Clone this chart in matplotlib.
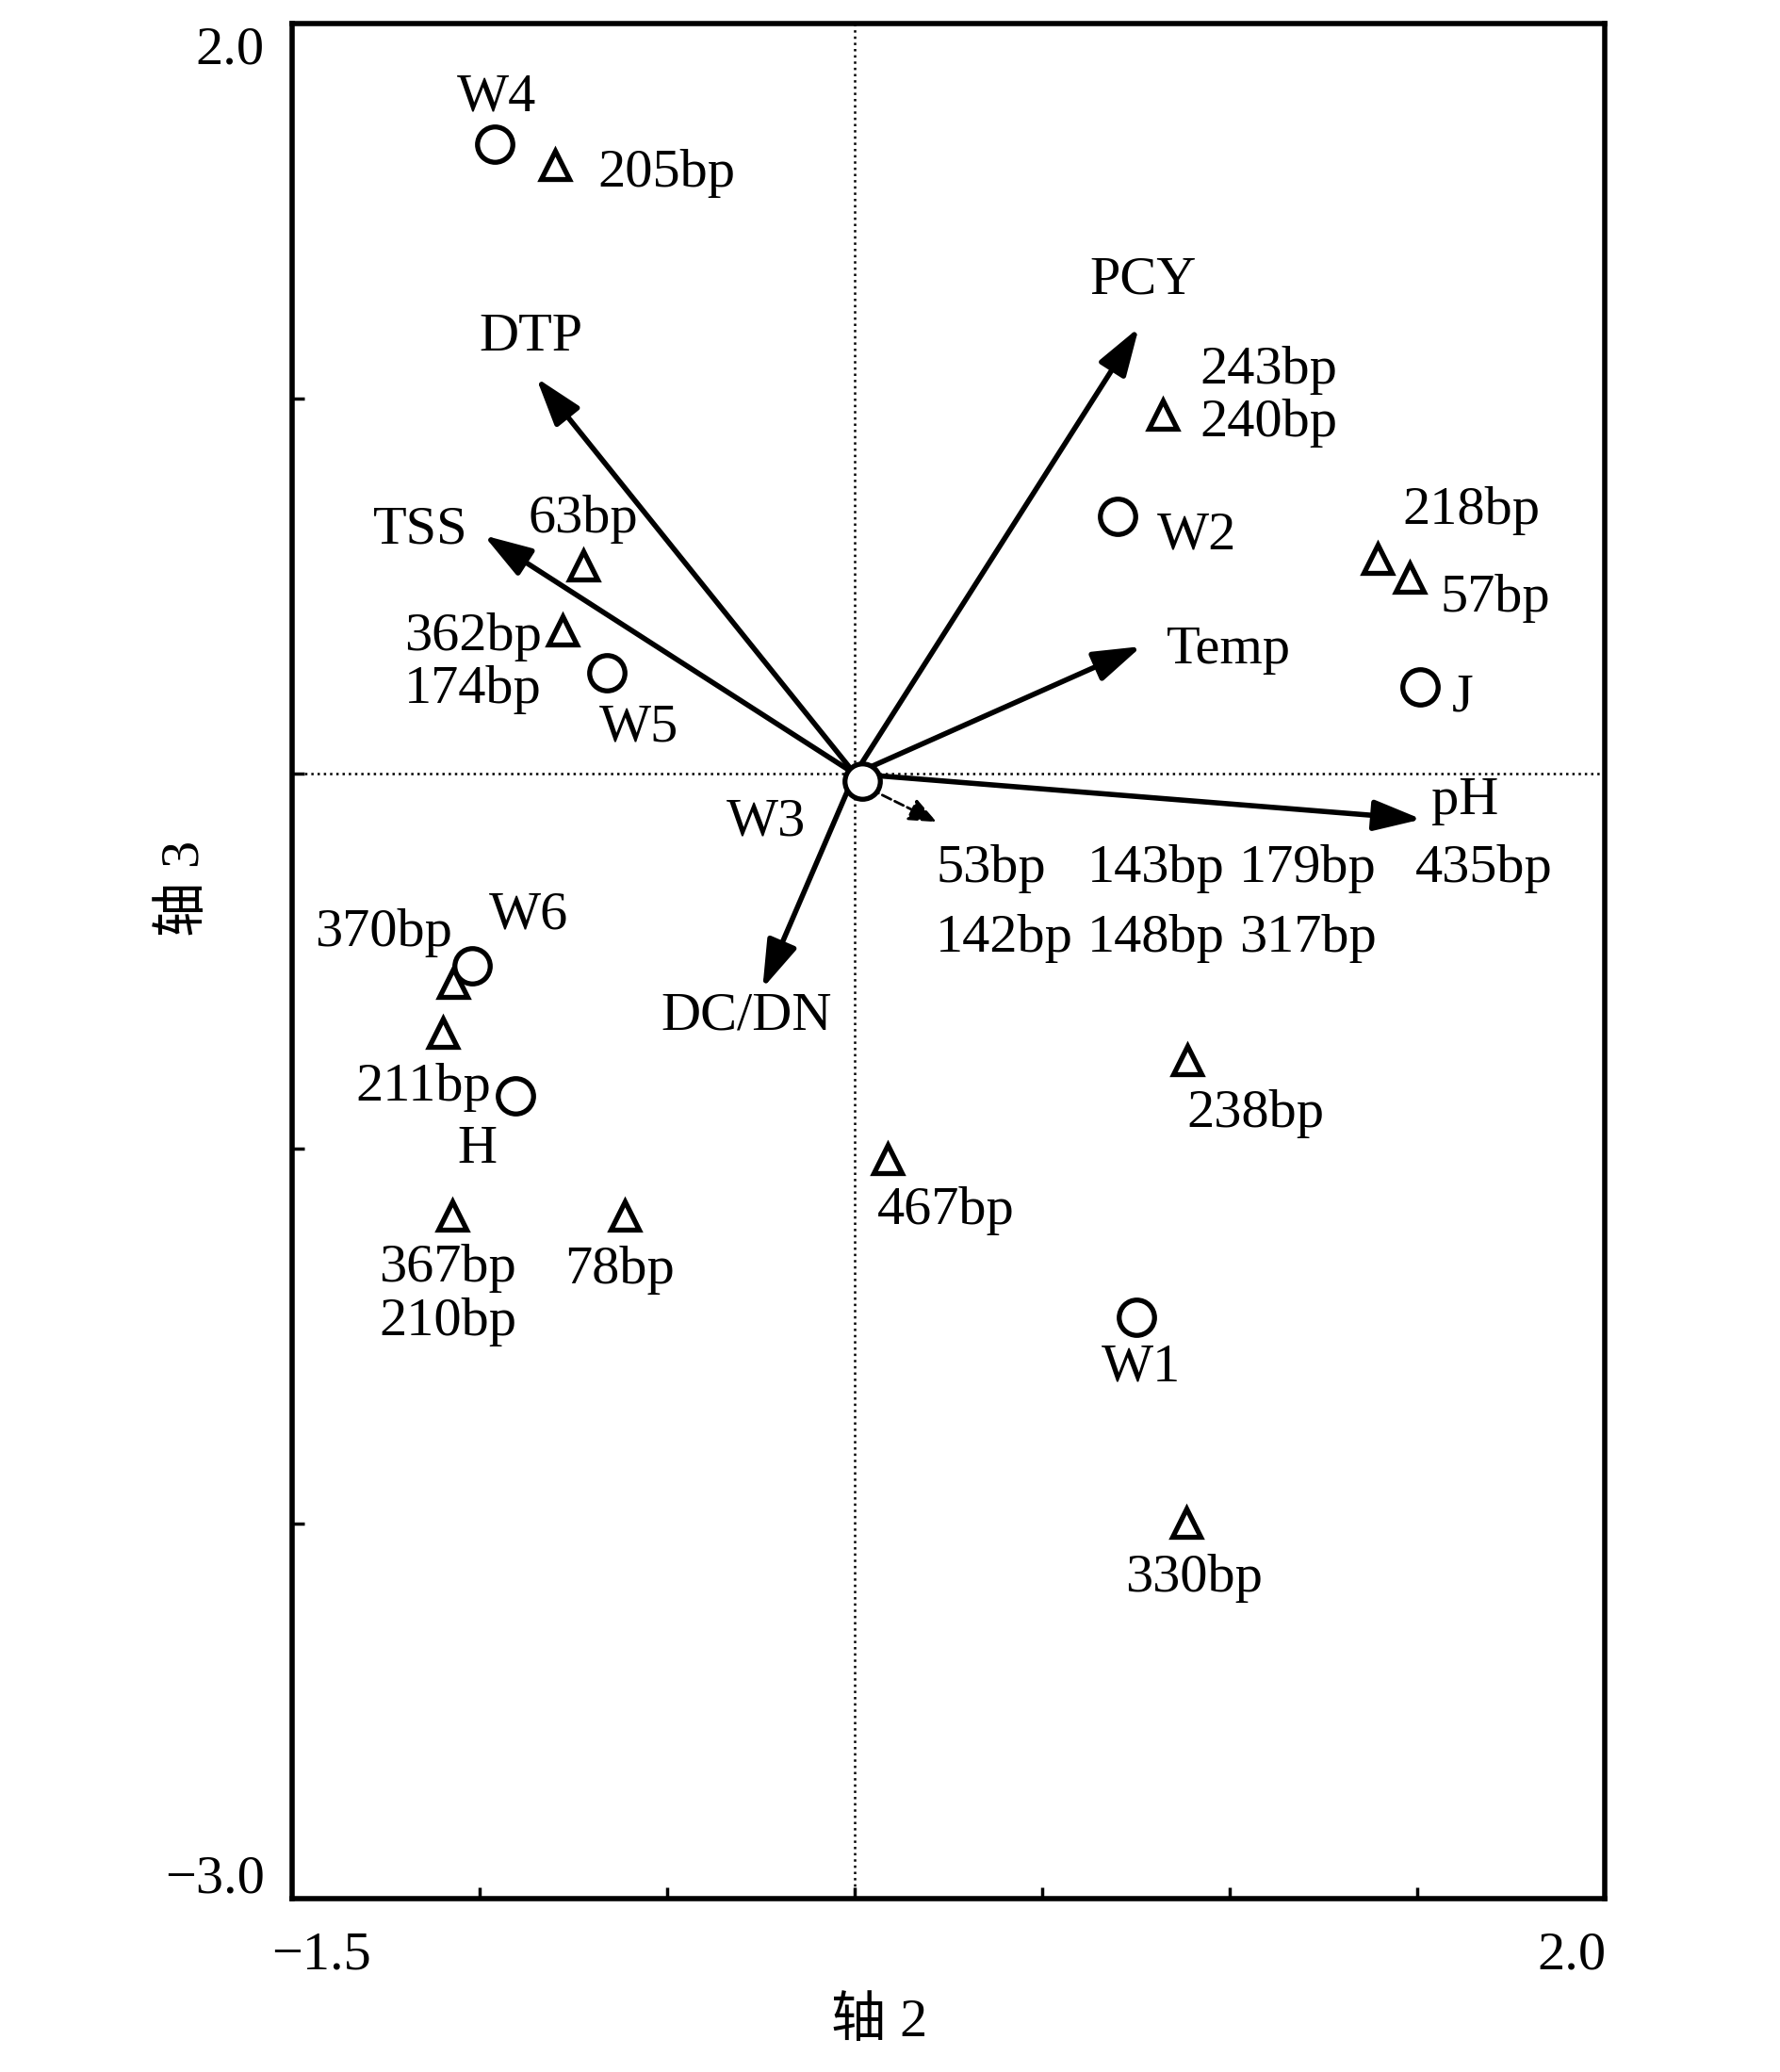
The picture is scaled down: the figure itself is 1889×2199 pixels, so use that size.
import matplotlib.pyplot as plt

plt.rcParams['font.family'] = ['Liberation Serif', 'Noto Sans CJK SC']
fs = 42

# sites (circles)
sites = ['W1', 'W2', 'W3', 'W4', 'W5', 'W6', 'H', 'J']
site_x = [0.75, 0.70, 0.02, -0.96, -0.66, -1.02, -0.905, 1.507]
site_y = [-1.45, 0.686, -0.02, 1.679, 0.270, -0.512, -0.858, 0.231]
site_off = [(0.014, -0.133), (0.212, -0.050), (-0.256, -0.108), (0.006, 0.124),
            (0.084, -0.148), (0.150, 0.134), (-0.102, -0.144), (0.113, -0.028)]

# species (triangles)
species = ['205bp', '243bp\n240bp', '218bp', '57bp', '63bp', '362bp\n174bp', '370bp',
           '211bp', '238bp', '467bp', '367bp\n210bp', '78bp', '330bp']
sp_x = [-0.80, 0.82, 1.394, 1.479, -0.725, -0.778, -1.07, -1.099, 0.887, 0.088, -1.074, -0.613, 0.884]
sp_y = [1.623, 0.957, 0.573, 0.524, 0.555, 0.383, -0.558, -0.689, -0.762, -1.027, -1.178, -1.178, -1.996]
sp_off = [(0.299, -0.021), (0.282, 0.049), (0.250, 0.130), (0.229, -0.057), (0.0, 0.124),
          (-0.240, -0.088), (-0.187, 0.134), (-0.052, -0.148), (0.180, -0.145), (0.155, -0.137),
          (-0.011, -0.212), (-0.014, -0.145), (0.021, -0.148)]

# environmental variables (arrows)
env = ['DTP', 'TSS', 'PCY', 'Temp', 'pH', 'DC/DN']
env_x = [-0.849, -0.989, 0.757, 0.764, 1.511, -0.246]
env_y = [1.056, 0.636, 1.190, 0.340, -0.121, -0.572]
env_off = [(-0.014, 0.109), (-0.169, 0.014), (0.011, 0.126), (0.232, -0.010),
           (0.116, 0.049), (-0.043, -0.074)]

# species clustered near the origin (short dashed arrow)
near_x, near_y = 0.218, -0.128
near_labels = [['53bp', '143bp', '179bp', '435bp'], ['142bp', '148bp', '317bp']]
near_lab_x = [[0.363, 0.803, 1.208, 1.676], [0.398, 0.803, 1.208]]
near_lab_y = [-0.252, -0.438]

fig = plt.figure(figsize=(18.9, 21.99), dpi=100)
ax = fig.add_axes([0.164, 0.0835, 0.7373, 0.9050])
ax.set_xlim(-1.5, 2.0)
ax.set_ylim(-3.0, 2.0)

ax.axhline(0, color='black', ls=':', lw=1.8, zorder=1)
ax.axvline(0, color='black', ls=':', lw=1.8, zorder=1)

for name, x, y, (dx, dy) in zip(env, env_x, env_y, env_off):
    ax.annotate('', xy=(x, y), xytext=(0, 0),
                arrowprops=dict(arrowstyle='-|>,head_length=0.62,head_width=0.2',
                                mutation_scale=50, lw=4, color='black',
                                shrinkA=0, shrinkB=0), zorder=2)
    ax.text(x + dx, y + dy, name, fontsize=fs, ha='center', va='center')

ax.annotate('', xy=(near_x, near_y), xytext=(0.04, -0.04),
            arrowprops=dict(arrowstyle='-|>,head_length=0.6,head_width=0.25',
                            mutation_scale=30, lw=2, ls='--', color='black',
                            shrinkA=0, shrinkB=0), zorder=2)
for row, xs, y in zip(near_labels, near_lab_x, near_lab_y):
    for lab, x in zip(row, xs):
        ax.text(x, y, lab, fontsize=fs, ha='center', va='center')

ax.plot(site_x, site_y, 'o', ms=27, mfc='white', mec='black', mew=3.8, zorder=4)
for name, x, y, (dx, dy) in zip(sites, site_x, site_y, site_off):
    ax.text(x + dx, y + dy, name, fontsize=fs, ha='center', va='center')

ax.plot(sp_x, sp_y, '^', ms=21, mfc='white', mec='black', mew=3.8, zorder=4)
for name, x, y, (dx, dy) in zip(species, sp_x, sp_y, sp_off):
    ax.text(x + dx, y + dy, name, fontsize=fs, ha='center', va='center', linespacing=1.12)

# frame and ticks
for s in ax.spines.values():
    s.set_linewidth(4)
ax.set_xticks([-1.0, -0.5, 0.0, 0.5, 1.0, 1.5])
ax.set_yticks([1.0, 0.0, -1.0, -2.0])
ax.tick_params(direction='in', length=9, width=2.5, labelbottom=False, labelleft=False)

for x, lab in [(-1.423, '\u22121.5'), (1.912, '2.0')]:
    ax.annotate(lab, xy=(x, -3.0), xytext=(0, -43), textcoords='offset points',
                fontsize=fs, ha='center', va='center', annotation_clip=False)
for y, lab in [(1.93, '2.0'), (-2.947, '\u22123.0')]:
    ax.annotate(lab, xy=(-1.5, y), xytext=(-21, 0), textcoords='offset points',
                fontsize=fs, ha='right', va='center', annotation_clip=False)

ax.set_xlabel('轴 2', fontsize=fs, va='center')
ax.xaxis.set_label_coords(0.447, -0.0655)
ax.set_ylabel('轴 3', fontsize=fs, va='center')
ax.yaxis.set_label_coords(-0.0815, 0.539)

fig.savefig('out.png', dpi=100)
